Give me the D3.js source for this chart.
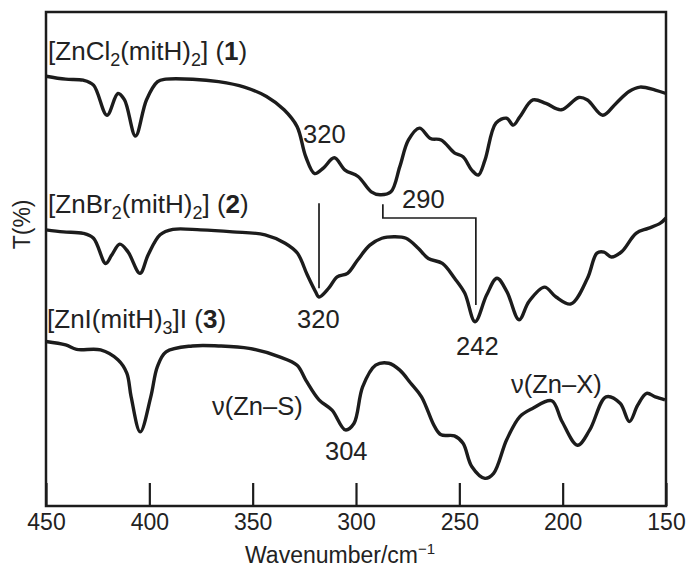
<!DOCTYPE html>
<html>
<head>
    <title>Far-IR spectra</title>
    <script src="https://d3js.org/d3.v7.min.js"></script>
    <style>
        body { margin: 0; background: #fff; }
        text { font-family: "Liberation Sans", Arial, Helvetica, sans-serif; fill: #222; }
        .trace { fill: none; stroke: #1c1c1c; stroke-width: 3.4; stroke-linejoin: round; }
        .marker { fill: none; stroke: #1c1c1c; stroke-width: 1.7; }
        .axis line { stroke: #1c1c1c; stroke-width: 2.2; }
        .axis path { display: none; }
    </style>
</head>
<body>
    <svg id="chart"></svg>

    <script>
        // x ticks (wavenumber, cm-1)
        var xTicks = [450, 400, 350, 300, 250, 200, 150];

        // spectra: [wavenumber, T (arbitrary %, offset traces)]
        var spec1 = [
            [450, 87.0], [440.5, 86.4], [432, 86.2], [427, 85.2], [420.5, 79.1], [415.2, 83.5],
            [412, 82.2], [406.7, 74.9], [401.4, 82.2], [396, 85.9], [392, 86.4], [379, 86.4],
            [366.5, 85.9], [354, 84.8], [343.3, 82.9], [334.8, 80.2], [328.5, 76.8], [324.3, 70.7],
            [320, 67.3], [315.8, 68.4], [310.5, 70.5], [305.3, 68.0], [299, 66.7], [292.6, 63.6],
            [288.4, 63.0], [283.1, 63.6], [278.8, 68.7], [274.6, 74.1], [269.3, 76.5], [264, 74.4],
            [258.8, 74.1], [252.4, 71.5], [248.2, 70.7], [244, 68.0], [240.8, 67.0], [237.6, 70.0],
            [232.3, 77.5], [227.1, 78.5], [223.9, 77.1], [220.7, 78.8], [214.4, 82.2], [208.1, 81.5],
            [200.7, 80.2], [192.2, 82.7], [188, 82.2], [180.6, 79.1], [174.2, 81.5], [167.9, 83.9],
            [162.6, 84.8], [155.2, 84.2], [150, 83.5]
        ];

        var spec2 = [
            [450, 55.9], [441.6, 55.5], [432, 55.2], [427, 54.2], [421.1, 49.1], [418.2, 50.8],
            [414.3, 53.0], [410.4, 51.5], [404.5, 47.1], [400.6, 50.8], [394.8, 54.9], [388.6, 56.0],
            [375.2, 55.9], [359.7, 55.5], [344, 54.9], [334.3, 53.2], [328.4, 51.2], [323.6, 46.8],
            [319.6, 43.4], [317.9, 42.3], [313.2, 44.1], [309.1, 46.4], [304.1, 47.1], [299.2, 49.8],
            [293.3, 52.8], [287.5, 54.2], [281.6, 54.5], [275.8, 54.2], [269.9, 52.2], [265, 50.1],
            [258.2, 49.1], [252.3, 46.1], [247.4, 43.1], [242.4, 37.3], [236.8, 42.7], [231.8, 46.1],
            [227, 43.4], [221.1, 37.7], [216.3, 41.4], [208.8, 44.3], [203.2, 42.3], [196, 40.9],
            [188, 46.1], [183.4, 51.2], [180, 51.4], [176.4, 50.4], [171.4, 51.5], [164.5, 55.2],
            [158.7, 56.2], [152.9, 57.2], [150, 58.3]
        ];

        var spec3 = [
            [450, 33.3], [440.5, 32.6], [435.2, 31.7], [423.6, 31.6], [415.2, 29.6], [410.9, 26.9],
            [408.8, 22.1], [404.4, 15.0], [399.3, 22.1], [396.1, 28.2], [391.9, 31.2], [379.2, 32.4],
            [366.5, 32.4], [351.7, 31.9], [337, 30.2], [328.5, 28.5], [324.3, 25.5], [317.9, 21.5],
            [311.6, 19.4], [305.2, 15.4], [301, 16.7], [296.8, 24.1], [290.5, 28.5], [284.1, 28.9],
            [278.8, 27.5], [273.6, 24.9], [268.3, 22.1], [262, 16.1], [258.8, 14.4], [252.4, 14.2],
            [248.2, 12.7], [244, 8.0], [237.6, 5.6], [233.4, 6.6], [227.1, 13.4], [220.7, 18.1],
            [214.4, 19.8], [205.3, 21.3], [200.3, 17.1], [192.8, 12.3], [186.9, 15.4], [179, 22.1],
            [172.2, 20.8], [167.7, 17.1], [163.7, 20.4], [159.4, 22.8], [155.2, 22.1], [150.5, 21.5]
        ];

        // peak marker lines: [wavenumber, T] polylines
        var mark320 = [[317.9, 61.3], [317.9, 44.1]];
        var mark290to242 = [[287, 61.1], [287, 58.3], [242, 58.3], [242, 40.7]];

        // annotation texts: text, wavenumber, T (baseline)
        var peakLabels = [
            ["320", 325.6, 73.5],
            ["290", 277.7, 60.3],
            ["320", 328.5, 36.0],
            ["242", 251.6, 30.6],
            ["\u03bd(Zn\u2013X)", 225, 22.9],
            ["\u03bd(Zn\u2013S)", 369.7, 18.4],
            ["304", 315, 9.3]
        ];

        var margin = {top: 12, right: 20, bottom: 65, left: 46},
            width = 686 - margin.left - margin.right,
            height = 571 - margin.top - margin.bottom;

        var svg = d3.select("#chart")
            .attr("width", 686)
            .attr("height", 571)
            .append("g")
            .attr("transform", "translate(" + margin.left + "," + margin.top + ")");

        var x = d3.scaleLinear().domain([450, 150]).range([0, width]);
        var y = d3.scaleLinear().domain([0, 100]).range([height, 0]);

        var line = d3.line()
            .x(function(d) { return x(d[0]); })
            .y(function(d) { return y(d[1]); })
            .curve(d3.curveCatmullRom.alpha(0.5));

        // ticks pointing inward
        svg.append("g")
            .attr("class", "axis")
            .attr("transform", "translate(0," + height + ")")
            .call(d3.axisBottom(x).tickValues(xTicks).tickSize(-23).tickPadding(8))
            .selectAll("text")
            .style("font-size", "23px")
            .attr("fill", "#222");

        svg.append("rect")
            .attr("width", width)
            .attr("height", height)
            .attr("fill", "none")
            .attr("stroke", "#1c1c1c")
            .attr("stroke-width", 2.5);

        [spec1, spec2, spec3].forEach(function(s) {
            svg.append("path").attr("class", "trace").attr("d", line(s));
        });

        svg.append("path").attr("class", "marker").attr("d", d3.line()(mark320.map(function(d) { return [x(d[0]), y(d[1])]; })));
        svg.append("path").attr("class", "marker").attr("d", d3.line()(mark290to242.map(function(d) { return [x(d[0]), y(d[1])]; })));

        svg.selectAll(".peak")
            .data(peakLabels)
            .enter().append("text")
            .attr("class", "peak")
            .attr("x", function(d) { return x(d[1]); })
            .attr("y", function(d) { return y(d[2]); })
            .style("font-size", "25.5px")
            .text(function(d) { return d[0]; });

        // compound names with subscripts and bold numbers
        function compound(parts, wn, t) {
            var txt = svg.append("text")
                .attr("x", x(wn))
                .attr("y", y(t))
                .style("font-size", "26px");
            var shifted = false;
            parts.forEach(function(p) {
                var ts = txt.append("tspan").text(p[0]);
                if (p[1] === "sub") {
                    ts.attr("dy", 6).style("font-size", "18px");
                    shifted = true;
                } else {
                    if (shifted) { ts.attr("dy", -6); shifted = false; }
                    if (p[1] === "b") ts.style("font-weight", "bold");
                }
            });
        }

        compound([["[ZnCl"], ["2", "sub"], ["(mitH)"], ["2", "sub"], ["] ("], ["1", "b"], [")"]], 449, 90.3);
        compound([["[ZnBr"], ["2", "sub"], ["(mitH)"], ["2", "sub"], ["] ("], ["2", "b"], [")"]], 449, 59.3);
        compound([["[ZnI(mitH)"], ["3", "sub"], ["]I ("], ["3", "b"], [")"]], 449.5, 36.0);

        // axis titles
        var xt = svg.append("text")
            .attr("x", 199)
            .attr("y", height + 57)
            .style("font-size", "23px");
        xt.append("tspan").text("Wavenumber/cm");
        xt.append("tspan").attr("dy", -9).style("font-size", "15px").text("\u22121");

        svg.append("text")
            .attr("transform", "translate(" + (-16) + "," + y(57) + ") rotate(-90)")
            .attr("text-anchor", "middle")
            .style("font-size", "23px")
            .text("T(%)");
    </script>
</body>
</html>
